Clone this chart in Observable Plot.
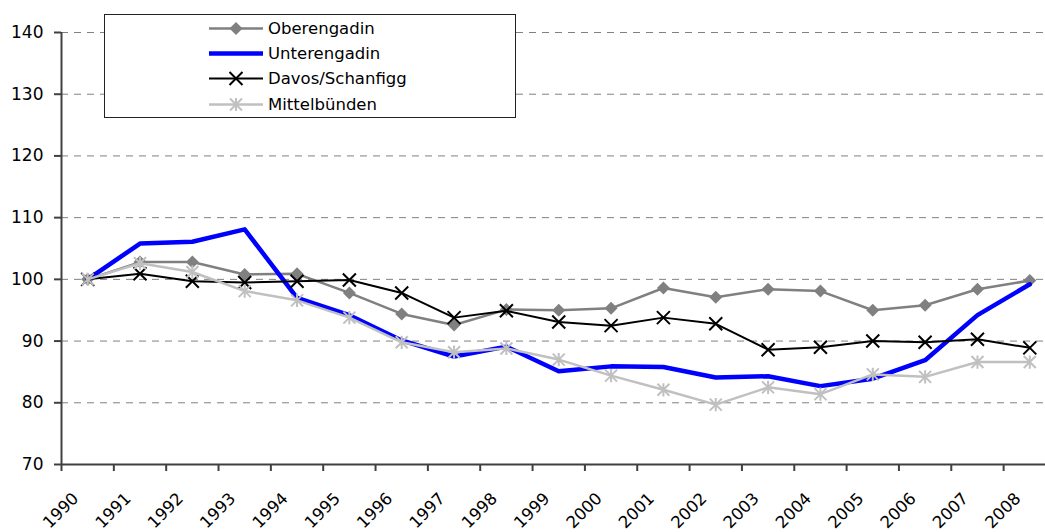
<!DOCTYPE html>
<html>
<head>
<meta charset="utf-8">
<script src="https://cdn.jsdelivr.net/npm/d3@7"></script>
<script src="https://cdn.jsdelivr.net/npm/@observablehq/plot@0.6"></script>
<style>
  html, body { margin: 0; padding: 0; background: #fff; }
  #wrap { position: relative; width: 1045px; height: 532px; overflow: hidden; font-family: "DejaVu Sans", Verdana, sans-serif; }
  #legend { position: absolute; left: 104px; top: 14px; width: 410px; height: 102px; border: 1px solid #222; background: #fff; box-sizing: content-box; }
  .row { position: absolute; left: 104px; height: 25px; display: flex; align-items: center; font-size: 16.5px; color: #000; }
  .row svg { margin-right: 4px; }
</style>
</head>
<body>
<div id="wrap"></div>
<script>
const years = ["1990","1991","1992","1993","1994","1995","1996","1997","1998","1999","2000","2001","2002","2003","2004","2005","2006","2007","2008"];
const yTicks = [70, 80, 90, 100, 110, 120, 130, 140];
const seriesNames = ["Oberengadin", "Unterengadin", "Davos/Schanfigg", "Mittelbünden"];
const oberengadin = [100, 102.8, 102.8, 100.8, 100.9, 97.8, 94.4, 92.6, 95.1, 95.0, 95.3, 98.6, 97.1, 98.4, 98.1, 95.0, 95.8, 98.4, 99.8];
const unterengadin = [100, 105.8, 106.1, 108.1, 97.0, 94.2, 90.1, 87.5, 89.1, 85.1, 85.9, 85.8, 84.1, 84.3, 82.7, 83.9, 86.9, 94.2, 99.2];
const davos = [100, 100.9, 99.7, 99.5, 99.7, 99.9, 97.8, 93.8, 94.9, 93.1, 92.5, 93.8, 92.8, 88.6, 89.0, 90.0, 89.8, 90.3, 88.9];
const mittelbuenden = [100, 102.6, 101.2, 98.1, 96.6, 93.8, 89.8, 88.2, 88.8, 87.0, 84.4, 82.1, 79.7, 82.5, 81.4, 84.6, 84.2, 86.6, 86.6];

// custom symbols (Excel-like markers)
const diamondSym = { draw(ctx, size) { const r = Math.sqrt(size / Math.PI); ctx.moveTo(0, -r); ctx.lineTo(r, 0); ctx.lineTo(0, r); ctx.lineTo(-r, 0); ctx.closePath(); } };
const timesSym = { draw(ctx, size) { const r = Math.sqrt(size / Math.PI); ctx.moveTo(-r, -r); ctx.lineTo(r, r); ctx.moveTo(r, -r); ctx.lineTo(-r, r); } };
const starSym = { draw(ctx, size) { const r = Math.sqrt(size / Math.PI); ctx.moveTo(-r, -r); ctx.lineTo(r, r); ctx.moveTo(r, -r); ctx.lineTo(-r, r); ctx.moveTo(0, -r * 1.1); ctx.lineTo(0, r * 1.1); } };

const styles = [
  { name: seriesNames[0], values: oberengadin, stroke: "#808080", width: 2.5, symbol: diamondSym, r: 6.5, fill: "#808080", mstroke: "none", mw: 0 },
  { name: seriesNames[1], values: unterengadin, stroke: "#0000ff", width: 4.5, symbol: null },
  { name: seriesNames[2], values: davos, stroke: "#000000", width: 2, symbol: timesSym, r: 6.5, fill: "none", mstroke: "#000", mw: 2 },
  { name: seriesNames[3], values: mittelbuenden, stroke: "#c0c0c0", width: 2.5, symbol: starSym, r: 6, fill: "none", mstroke: "#c0c0c0", mw: 2 }
];

const idx = years.map((_, i) => i);
const marks = [];
// gridlines
marks.push(Plot.ruleY(yTicks.filter(v => v > 70), { y: d => d, stroke: "#808080", strokeWidth: 1, strokeDasharray: "7,6" }));
// series
for (const s of styles) {
  const data = s.values.map((v, i) => ({ i: i + 0.5, v }));
  marks.push(Plot.line(data, { x: "i", y: "v", stroke: s.stroke, strokeWidth: s.width, strokeLinejoin: "round" }));
  if (s.symbol) marks.push(Plot.dot(data, { x: "i", y: "v", symbol: s.symbol, r: s.r, fill: s.fill, stroke: s.mstroke, strokeWidth: s.mw }));
}
// axes
marks.push(Plot.axisY(yTicks, { tickSize: 7, tickPadding: 11, stroke: "#404040", strokeWidth: 2, fontSize: 17, fill: "#000", label: null }));
marks.push(Plot.axisX(idx, { tickSize: 7, stroke: "#404040", strokeWidth: 2, tickFormat: () => "", label: null }));
marks.push(Plot.ruleX([0], { stroke: "#404040", strokeWidth: 2 }));
marks.push(Plot.ruleY([70], { stroke: "#404040", strokeWidth: 2 }));
marks.push(Plot.text(idx, { x: d => d, y: () => 70, text: d => years[d], rotate: -45, textAnchor: "end", lineAnchor: "bottom", dx: 18, dy: 35, fontSize: 16.5, fill: "#000", className: "xlab" }));

const chart = Plot.plot({
  width: 1045,
  height: 532,
  marginLeft: 61,
  marginRight: 0,
  marginTop: 32,
  marginBottom: 68,
  style: { fontFamily: "DejaVu Sans, Verdana, sans-serif", fontSize: "17px", background: "#fff", overflow: "visible" },
  x: { domain: [0, 18.8], axis: null },
  y: { domain: [70, 140], axis: null },
  marks
});
// make sure the year labels are rotated
d3.select(chart).selectAll(".xlab text").each(function () {
  const t = this.getAttribute("transform") || "";
  if (!/rotate/.test(t)) this.setAttribute("transform", t + " rotate(-45)");
  this.setAttribute("text-anchor", "end");
});
const wrap = document.getElementById("wrap");
wrap.appendChild(chart);

// legend
const legend = document.createElement("div");
legend.id = "legend";
wrap.appendChild(legend);
styles.forEach((s, k) => {
  const row = document.createElement("div");
  row.className = "row";
  row.style.top = (1 + k * 25.2) + "px";
  const sw = d3.create("svg").attr("width", 55).attr("height", 25);
  sw.append("line").attr("x1", 0).attr("x2", 54).attr("y1", 12.5).attr("y2", 12.5).attr("stroke", s.stroke).attr("stroke-width", s.width);
  if (s.symbol) {
    const p = d3.path();
    s.symbol.draw(p, s.r * s.r * Math.PI);
    sw.append("path").attr("d", p.toString()).attr("transform", "translate(27,12.5)").attr("fill", s.fill).attr("stroke", s.mstroke).attr("stroke-width", s.mw);
  }
  row.appendChild(sw.node());
  const t = document.createElement("span");
  t.textContent = s.name;
  row.appendChild(t);
  legend.appendChild(row);
});
</script>
</body>
</html>
